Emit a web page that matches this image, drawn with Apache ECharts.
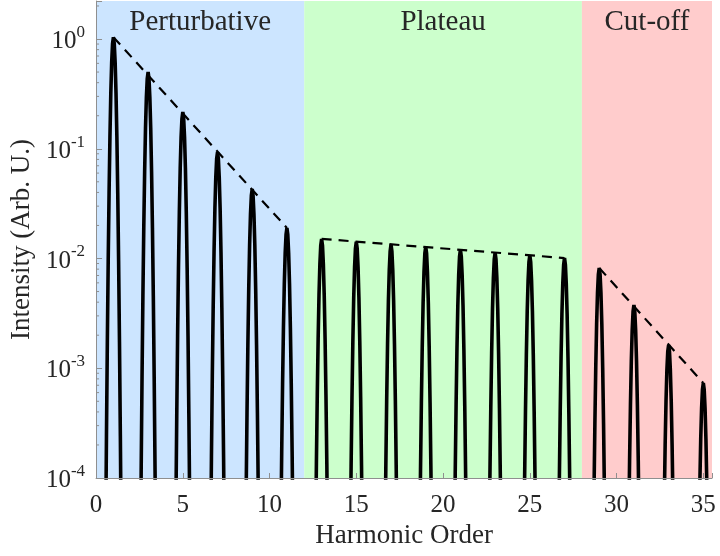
<!DOCTYPE html>
<html>
<head>
<meta charset="utf-8">
<title>Harmonic spectrum</title>
<script src="https://cdn.jsdelivr.net/npm/echarts@6/dist/echarts.min.js"></script>
<style>
  html, body { margin: 0; padding: 0; background: #ffffff; }
  #chart { width: 720px; height: 556px; }
</style>
</head>
<body>
<div id="chart"></div>
<script>
// Odd harmonic orders and their peak intensities (arb. units)
const HARMONICS = [1, 3, 5, 7, 9, 11, 13, 15, 17, 19, 21, 23, 25, 27, 29, 31, 33, 35];
const PEAK_INTENSITY = [1.04, 0.50, 0.216, 0.093, 0.043, 0.019,
  0.0151, 0.0142, 0.0134, 0.0128, 0.0120, 0.0113, 0.0107, 0.0101,
  0.0082, 0.00377, 0.00163, 0.000734];

// Line shape of a single harmonic: offset from the peak centre (harmonic units)
// and how many decades the intensity sits below the peak at that offset
const PROFILE_OFFSET = [0, 0.05, 0.10, 0.15, 0.20, 0.25, 0.30, 0.35, 0.40, 0.45, 0.50];
const PROFILE_DROP = [0, 0.06, 0.23, 0.51, 0.91, 1.42, 2.04, 2.78, 3.63, 4.60, 5.70];

// Spectral regions
const REGION_NAMES = ['Perturbative', 'Plateau', 'Cut-off'];
const REGION_FROM = [0, 12, 28];
const REGION_TO = [12, 28, 35.5];

// Harmonic ranges joined by the dashed envelope lines
const ENVELOPE_FIRST = [1, 13, 29];
const ENVELOPE_LAST = [11, 27, 35];

// Axis ticks
const X_TICKS = [0, 5, 10, 15, 20, 25, 30, 35];
const Y_TICK_EXPONENTS = [-4, -3, -2, -1, 0];

const X_MAX = 35.5;
const Y_MIN = 1e-4;
const Y_MAX = 2.22;

const FONT = "'Liberation Serif', 'Times New Roman', serif";
const TEXT_COLOR = '#262626';
const AXIS_COLOR = '#8f8f8f';
const REGION_COLORS = ['#cce5ff', '#ccffcc', '#ffcccc'];

// Build the spectrum polyline, peak by peak
const spectrum = [];
HARMONICS.forEach((n, i) => {
  const h = PEAK_INTENSITY[i];
  for (let k = PROFILE_OFFSET.length - 1; k > 0; k--) {
    spectrum.push([n - PROFILE_OFFSET[k], h * Math.pow(10, -PROFILE_DROP[k])]);
  }
  for (let k = 0; k < PROFILE_OFFSET.length; k++) {
    spectrum.push([n + PROFILE_OFFSET[k], h * Math.pow(10, -PROFILE_DROP[k])]);
  }
});

const peakOf = n => PEAK_INTENSITY[HARMONICS.indexOf(n)];

const envelopeSeries = ENVELOPE_FIRST.map((a, i) => ({
  type: 'line',
  data: [[a, peakOf(a)], [ENVELOPE_LAST[i], peakOf(ENVELOPE_LAST[i])]],
  showSymbol: false,
  symbol: 'none',
  silent: true,
  z: 4,
  lineStyle: { color: '#000', width: 2.2, type: [10, 7] }
}));

// Minor ticks of the log axis (2..9 within each decade)
const minorTicks = [];
Y_TICK_EXPONENTS.forEach(e => {
  for (let m = 2; m <= 9; m++) {
    const v = m * Math.pow(10, e);
    if (v < Y_MAX) minorTicks.push([0, v]);
  }
});

const isDecade = v => Math.abs(Math.log10(v) - Math.round(Math.log10(v))) < 1e-6;

const chart = echarts.init(document.getElementById('chart'), null, { renderer: 'canvas' });

chart.setOption({
  animation: false,
  backgroundColor: '#ffffff',
  grid: { left: 95, right: 8, top: 1, bottom: 78, containLabel: false },
  xAxis: {
    type: 'value',
    min: 0,
    max: X_MAX,
    interval: 5,
    z: 5,
    name: 'Harmonic Order',
    nameLocation: 'middle',
    nameGap: 40,
    nameTextStyle: { fontFamily: FONT, fontSize: 27, color: TEXT_COLOR },
    axisLine: { show: true, lineStyle: { color: AXIS_COLOR, width: 1 } },
    axisTick: { show: true, inside: true, length: 5, lineStyle: { color: AXIS_COLOR } },
    splitLine: { show: false },
    axisLabel: {
      margin: 15,
      fontFamily: FONT,
      fontSize: 25,
      color: TEXT_COLOR,
      formatter: v => (X_TICKS.indexOf(v) >= 0 ? String(v) : '')
    }
  },
  yAxis: {
    type: 'log',
    logBase: 10,
    min: Y_MIN,
    max: Y_MAX,
    z: 5,
    name: 'Intensity (Arb. U.)',
    nameLocation: 'middle',
    nameGap: 60,
    nameTextStyle: { fontFamily: FONT, fontSize: 27, color: TEXT_COLOR },
    axisLine: { show: true, lineStyle: { color: AXIS_COLOR, width: 1 } },
    axisTick: { show: true, inside: true, length: 6, lineStyle: { color: AXIS_COLOR } },
    splitLine: { show: false },
    axisLabel: {
      margin: 11,
      fontFamily: FONT,
      color: TEXT_COLOR,
      formatter: v => {
        if (!isDecade(v)) return '';
        const e = Math.round(Math.log10(v));
        if (Y_TICK_EXPONENTS.indexOf(e) < 0) return '';
        return '{b|10}{s|' + e + '}';
      },
      rich: {
        b: { fontFamily: FONT, fontSize: 25, color: TEXT_COLOR, lineHeight: 30, verticalAlign: 'bottom' },
        s: { fontFamily: FONT, fontSize: 17, color: TEXT_COLOR, lineHeight: 17, verticalAlign: 'top' }
      }
    }
  },
  series: [
    {
      // region backgrounds and their titles
      type: 'line',
      data: [],
      silent: true,
      z: 1,
      markArea: {
        silent: true,
        data: REGION_NAMES.map((name, i) => [
          {
            name: name,
            xAxis: REGION_FROM[i],
            yAxis: Y_MIN,
            itemStyle: { color: REGION_COLORS[i], opacity: 1 }
          },
          { xAxis: REGION_TO[i], yAxis: Y_MAX }
        ]),
        label: {
          show: true,
          position: 'insideTop',
          distance: 7,
          fontFamily: FONT,
          fontSize: 29,
          color: TEXT_COLOR
        }
      }
    },
    {
      // harmonic spectrum
      type: 'line',
      data: spectrum,
      showSymbol: false,
      symbol: 'none',
      silent: true,
      clip: true,
      z: 3,
      lineStyle: { color: '#000', width: 3.6, join: 'bevel' }
    },
    ...envelopeSeries,
    {
      // minor ticks on the intensity axis
      type: 'custom',
      data: minorTicks,
      silent: true,
      z: 6,
      renderItem: (params, api) => {
        const p = api.coord([api.value(0), api.value(1)]);
        return {
          type: 'line',
          shape: { x1: p[0], y1: p[1], x2: p[0] + 3, y2: p[1] },
          style: { stroke: AXIS_COLOR, lineWidth: 1 }
        };
      }
    }
  ]
});
</script>
</body>
</html>
